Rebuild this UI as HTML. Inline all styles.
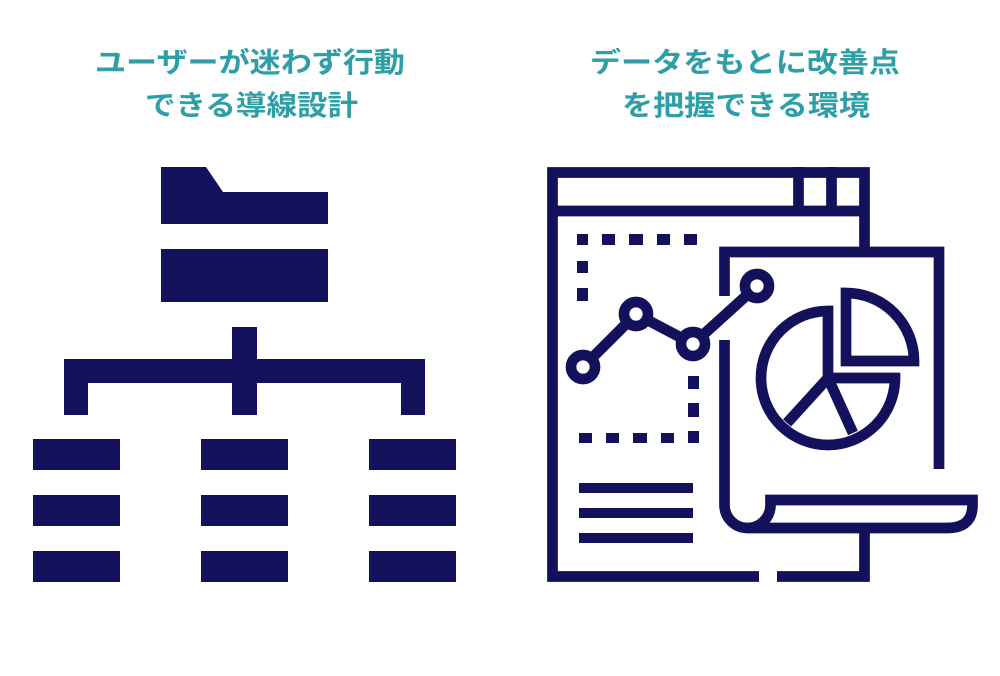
<!DOCTYPE html>
<html><head><meta charset="utf-8"><style>html,body{margin:0;padding:0;background:#fff}svg{display:block}</style></head>
<body>
<svg width="1000" height="676" viewBox="0 0 1000 676" xmlns="http://www.w3.org/2000/svg">
<g font-family="Liberation Sans, Noto Sans CJK JP, sans-serif" font-weight="bold" font-size="28" fill="#2e9fa6">
<text x="95" y="72" textLength="310" lengthAdjust="spacingAndGlyphs">ユーザーが迷わず行動</text>
<text x="145" y="115" textLength="213" lengthAdjust="spacingAndGlyphs">できる導線設計</text>
<text x="590" y="72" textLength="310" lengthAdjust="spacingAndGlyphs">データをもとに改善点</text>
<text x="622" y="115" textLength="248" lengthAdjust="spacingAndGlyphs">を把握できる環境</text>
</g>
<g fill="#13115c">
<polygon points="161,167 206,167 223,192 328,192 328,224 161,224"/>
<rect x="161" y="249" width="167" height="53"/>
<rect x="232" y="327" width="25" height="88"/>
<rect x="64" y="359" width="361" height="24"/>
<rect x="64" y="359" width="24" height="56"/>
<rect x="401" y="359" width="24" height="56"/>
<rect x="33" y="439" width="87" height="31"/><rect x="33" y="495" width="87" height="31"/><rect x="33" y="551" width="87" height="31"/>
<rect x="201" y="439" width="87" height="31"/><rect x="201" y="495" width="87" height="31"/><rect x="201" y="551" width="87" height="31"/>
<rect x="369" y="439" width="87" height="31"/><rect x="369" y="495" width="87" height="31"/><rect x="369" y="551" width="87" height="31"/>
<!-- dots -->
<rect x="577" y="234" width="11" height="11"/><rect x="602" y="234" width="13" height="11"/><rect x="629" y="234" width="14" height="11"/><rect x="657" y="234" width="13" height="11"/><rect x="684" y="234" width="13" height="11"/>
<rect x="577" y="261" width="11" height="12"/><rect x="577" y="288" width="11" height="13"/>
<rect x="688" y="376" width="11" height="13"/><rect x="688" y="403" width="11" height="14"/><rect x="688" y="431" width="11" height="12"/>
<rect x="579" y="433" width="13" height="10"/><rect x="606" y="433" width="13" height="10"/><rect x="633" y="433" width="14" height="10"/><rect x="661" y="433" width="13" height="10"/>
<rect x="579" y="483" width="114" height="10"/><rect x="579" y="508" width="114" height="10"/><rect x="579" y="533" width="114" height="10"/>
</g>
<g fill="none" stroke="#13115c" stroke-width="10.7">
<path d="M864.5,247 V172.5 H552.5 V576.5 H759 M777,576.5 H864.5 V533"/>
<line x1="552" y1="211" x2="865" y2="211"/>
<line x1="798.5" y1="167" x2="798.5" y2="211"/>
<line x1="831.5" y1="167" x2="831.5" y2="211"/>
<path d="M724.5,296 V252 H939 V469"/>
<path d="M724.5,340 V505 A23 23 0 0 0 770.5 505 V500 H972.5 V505 Q972.5 528 947 528 H747"/>
<polyline points="583,367 636,314 693,344 757,286"/>
<path d="M828,311 A67 67 0 1 0 895,378 H828 Z"/>
<line x1="828" y1="378" x2="787" y2="423"/>
<line x1="828" y1="378" x2="853" y2="433"/>
<path d="M846,293 A68 68 0 0 1 914,361 H846 Z"/>
</g>
<g fill="#fff" stroke="#13115c" stroke-width="10.7">
<circle cx="583" cy="367" r="12"/><circle cx="636" cy="314" r="12"/><circle cx="693" cy="344" r="12"/><circle cx="757" cy="286" r="12"/>
</g>
</svg>
</body></html>
